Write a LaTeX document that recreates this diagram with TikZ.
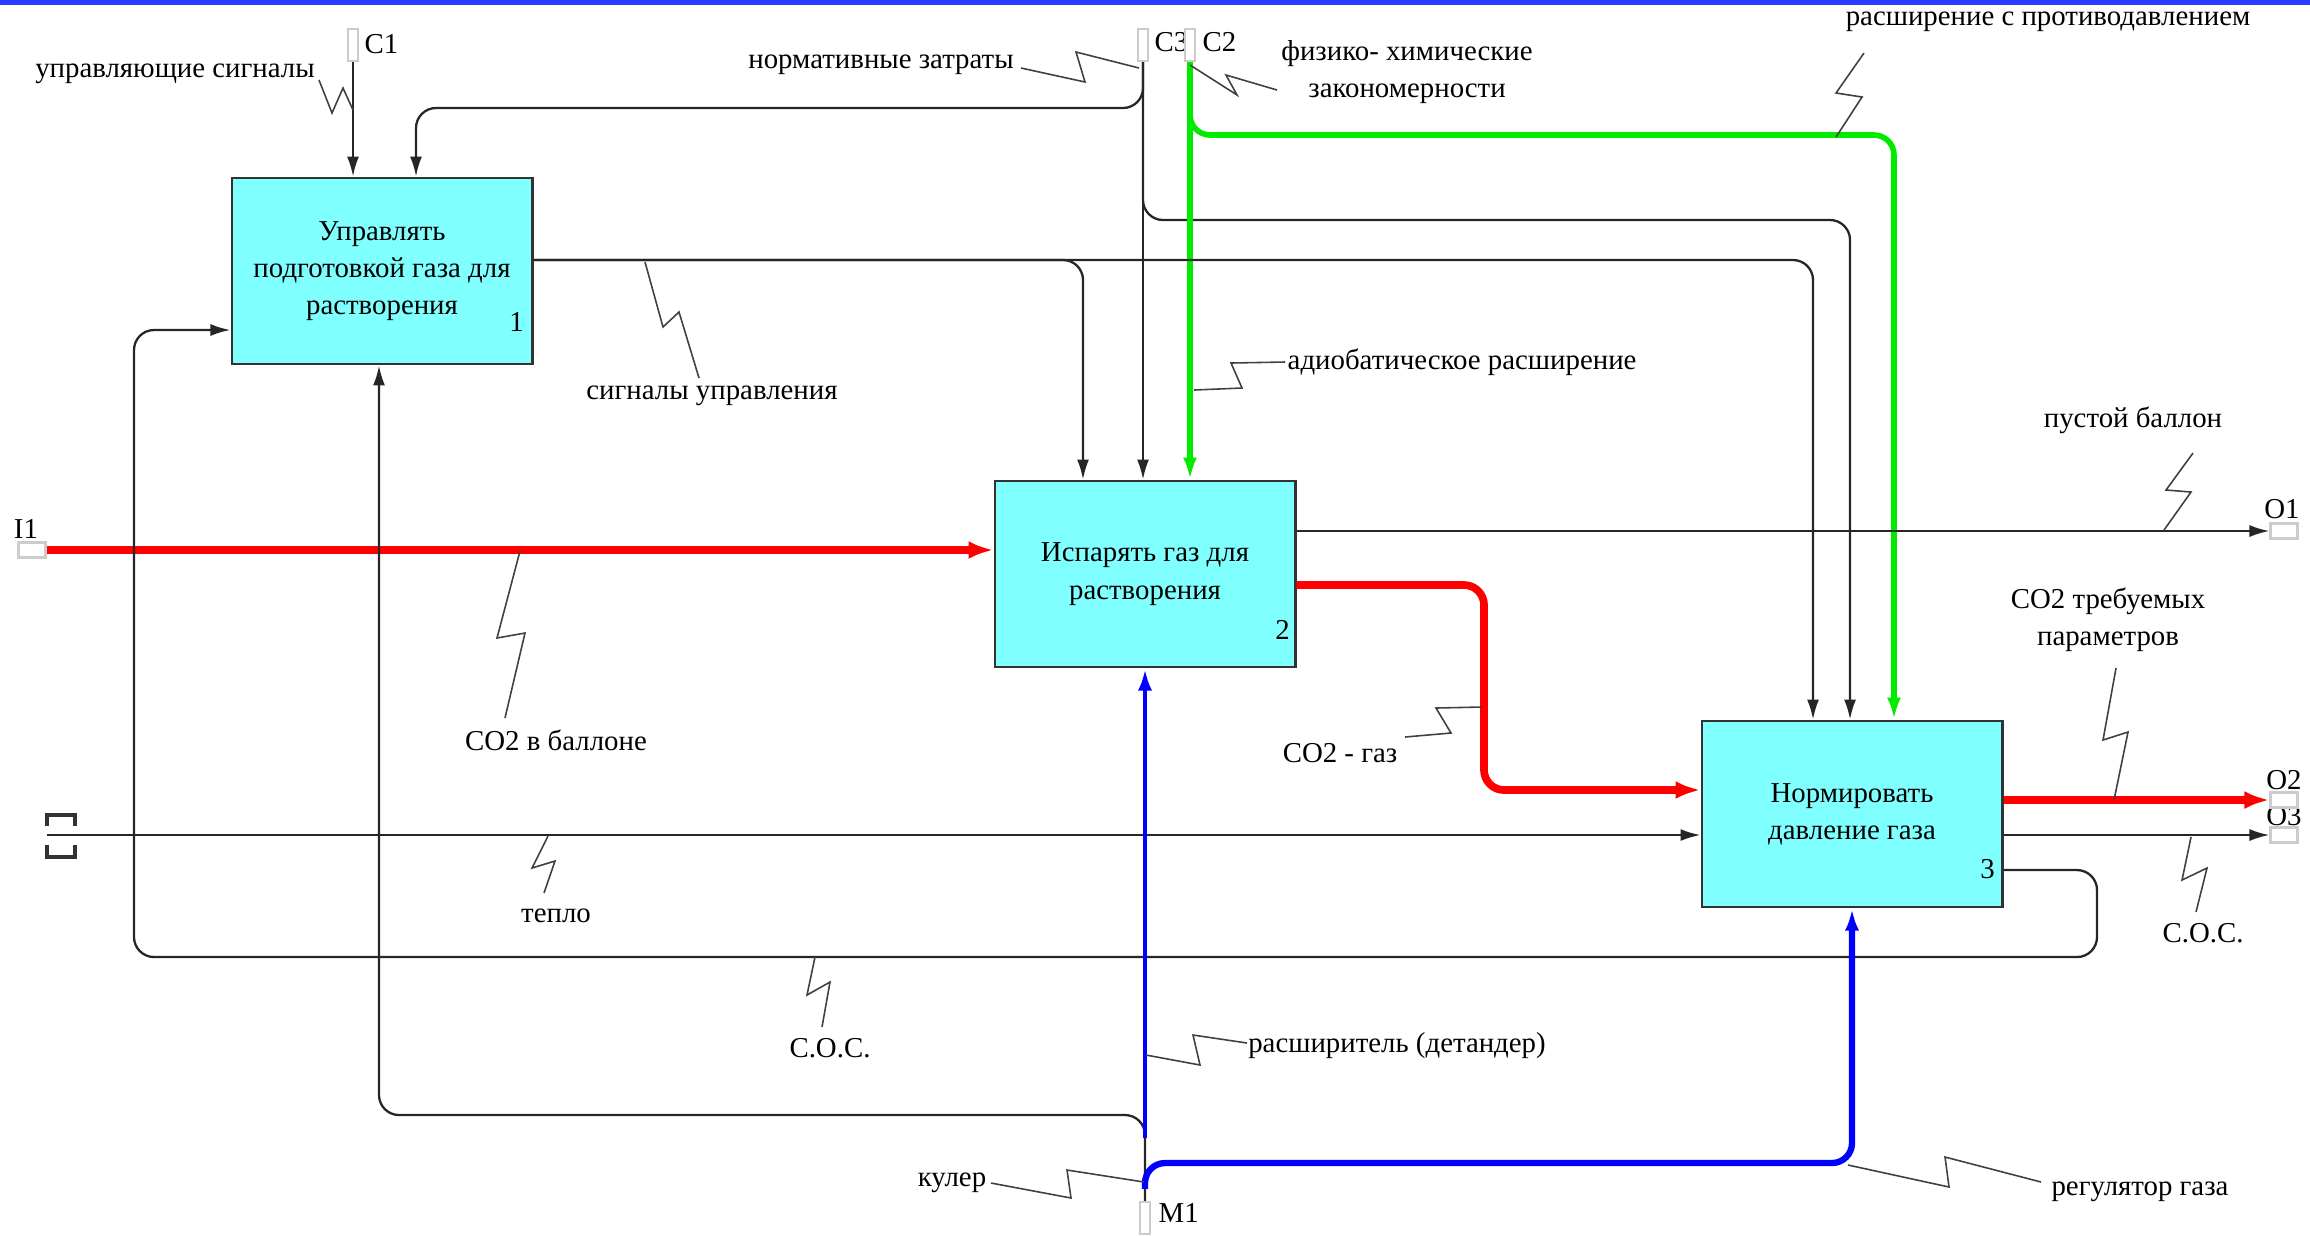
\documentclass[tikz,border=0pt]{standalone}
\usepackage{fontspec}
\setmainfont{Liberation Serif}
\usetikzlibrary{arrows.meta,positioning}

\definecolor{fncyan}{RGB}{128,255,255}
\definecolor{topblue}{RGB}{43,58,255}
\definecolor{flowred}{RGB}{255,0,0}
\definecolor{flowgreen}{RGB}{0,235,0}
\definecolor{flowblue}{RGB}{0,0,255}

\begin{document}
\begin{tikzpicture}[x=0.01cm, y=-0.01cm,
    every node/.style={font=\fontsize{8.2}{10.6}\selectfont},
    fn/.style={rectangle, draw=black!80, line width=0.8pt, fill=fncyan,
               minimum width=3cm, minimum height=1.86cm, align=center, inner sep=0pt},
    num/.style={inner sep=0pt},
    tun/.style={rectangle, draw=black!20, fill=white, line width=0.6pt, inner sep=0pt},
    vt/.style={tun, minimum width=0.1cm, minimum height=0.32cm},
    ht/.style={tun, minimum width=0.27cm, minimum height=0.15cm},
    tl/.style={inner sep=0pt},
    lbl/.style={inner sep=0pt, align=center},
    e/.style={draw=black!85, line width=0.65pt, rounded corners=0.2cm,
              -{Latex[length=2mm,width=1.2mm]}},
    er/.style={e, draw=flowred, line width=2.2pt, -{Latex[length=2.5mm,width=1.8mm]}},
    eg/.style={e, draw=flowgreen, line width=1.6pt, -{Latex[length=2.2mm,width=1.4mm]}},
    eb/.style={e, draw=flowblue, line width=1.3pt, -{Latex[length=2.2mm,width=1.4mm]}},
    sq/.style={draw=black!75, line width=0.45pt},
  ]
  \useasboundingbox (0,0) rectangle (2310,1235);
  \fill[topblue] (0,0) rectangle (2310,5);

  % function boxes
  \node[fn] (b1) at (382,271) {Управлять\\подготовкой газа для\\растворения};
  \node[fn] (b2) at (1145,574) {Испарять газ для\\растворения};
  \node[fn] (b3) at (1852,814) {Нормировать\\давление газа};
  \node[num] (n1) at ([xshift=-0.17cm, yshift=0.43cm]b1.south east) {1};
  \node[num] (n2) at ([xshift=-0.14cm, yshift=0.39cm]b2.south east) {2};
  \node[num] (n3) at ([xshift=-0.16cm, yshift=0.39cm]b3.south east) {3};

  % tunnels
  \node[tl, right] (c1l) at (364,44) {C1};
  \node[tl, right] (c3l) at (1154,42) {C3};
  \node[tl, right] (c2l) at (1202,42) {C2};
  \node[tl] (i1l) at (26,529) {I1};
  \node[tl] (o1l) at (2282,509) {O1};
  \node[tl] (o3l) at (2284,816) {O3};
  \node[tl] (o2l) at (2284,780) {O2};
  \node[tl, right] (m1l) at (1158,1213) {M1};
  \node[vt] (c1) at (353,45) {};
  \node[vt] (c3) at (1143,45) {};
  \node[vt] (c2) at (1190,45) {};
  \node[vt] (m1) at (1145,1218) {};
  \node[ht] (i1) at (32,550) {};
  \node[ht] (o1) at (2284,531) {};
  \node[ht] (o3) at (2284,835) {};
  \node[ht] (o2) at (2284,800) {};
  \coordinate (t1) at (47,835);
  \draw[black!80, line width=0.9pt] (47,826) -- (47,815) -- (75,815) -- (75,826);
  \draw[black!80, line width=0.9pt] (47,845) -- (47,857) -- (75,857) -- (75,845);

  % bends
  \coordinate (k1) at (416,108);
  \coordinate (k3) at (1850,220);
  \coordinate (g3) at (1894,135);
  \coordinate (s2) at (1083,260);
  \coordinate (s3) at (1813,260);
  \coordinate (r1) at (1484,790);
  \coordinate (f1) at (2097,957);
  \coordinate (f2) at (134,330);
  \coordinate (mk) at (379,1115);
  \coordinate (bk) at (1852,1163);

  % controls
  \draw[e] (c1.south) -- (c1.south |- b1.north);
  \draw[e] (c3.south) |- (k1) -- (k1 |- b1.north);
  \draw[e] (c3.south) -- (c3.south |- b2.north);
  \draw[e] (c3.south) |- (k3) -- (k3 |- b3.north);
  \draw[eg] (c2.south) -- (c2.south |- b2.north);
  \draw[eg] (c2.south) |- (g3) -- (g3 |- b3.north);
  \draw[e] ([yshift=0.11cm]b1.east) -| (s2 |- b2.north);
  \draw[e] ([yshift=0.11cm]b1.east) -| (s3 |- b3.north);
  % inputs and outputs
  \draw[er] (i1.east) -- (i1.east -| b2.west);
  \draw[e] (t1) -- (t1 -| b3.west);
  \draw[e] (o1.west -| b2.east) -- (o1.west);
  \draw[er] ([yshift=-0.11cm]b2.east) -| (r1) -- (r1 -| b3.west);
  \draw[er] (o2.west -| b3.east) -- (o2.west);
  \draw[e] (o3.west -| b3.east) -- (o3.west);
  \draw[e] ([yshift=-0.56cm]b3.east) -| (f1) -| (f2) -- (f2 -| b1.west);
  % mechanisms
  \draw[e] (m1.north) |- (mk) -- (mk |- b1.south);
  \draw[eb] ([yshift=0.63cm]m1.north) -- (m1.north |- b2.south);
  \draw[eb, line width=1.8pt] ([yshift=0.12cm]m1.north) |- (bk) -- (bk |- b3.south);

  % labels
  \node[lbl] (lsig) at (175,74) {управляющие сигналы};
  \node[lbl] (lnorm) at (881,65) {нормативные затраты};
  \node[lbl] (lfiz) at (1407,72) {физико- химические\\закономерности};
  \node[lbl] (lprot) at (2048,22) {расширение с противодавлением};
  \node[lbl] (lupr) at (712,396) {сигналы управления};
  \node[lbl, right] (ladi) at (1287,362) {адиобатическое расширение};
  \node[lbl] (lpust) at (2133,420) {пустой баллон};
  \node[lbl] (lco2b) at (556,740) {CO2 в баллоне};
  \node[lbl] (lco2g) at (1340,753) {CO2 - газ};
  \node[lbl] (lco2t) at (2108,620) {CO2 требуемых\\параметров};
  \node[lbl] (lsos1) at (2203,933) {С.О.С.};
  \node[lbl] (lteplo) at (556,916) {тепло};
  \node[lbl] (lsos2) at (830,1048) {С.О.С.};
  \node[lbl] (lrasch) at (1397,1046) {расширитель (детандер)};
  \node[lbl] (lkul) at (952,1183) {кулер};
  \node[lbl] (lreg) at (2140,1192) {регулятор газа};

  % squiggles
  \draw[sq] (319,80) -- (332,113) -- (343,88) -- (353,110);
  \draw[sq] (1021,68) -- (1085,82) -- (1076,52) -- (1139,68);
  \draw[sq] (1190,65) -- (1237,95) -- (1226,75) -- (1277,90);
  \draw[sq] (1864,53) -- (1836,93) -- (1862,97) -- (1836,137);
  \draw[sq] (645,262) -- (663,327) -- (679,312) -- (699,378);
  \draw[sq] (1194,390) -- (1242,388) -- (1231,363) -- (1285,362);
  \draw[sq] (2193,453) -- (2166,490) -- (2191,492) -- (2164,530);
  \draw[sq] (520,551) -- (497,638) -- (525,633) -- (505,718);
  \draw[sq] (1482,707) -- (1436,708) -- (1451,733) -- (1405,737);
  \draw[sq] (2116,668) -- (2103,740) -- (2128,732) -- (2114,800);
  \draw[sq] (2191,837) -- (2182,880) -- (2207,868) -- (2196,912);
  \draw[sq] (548,836) -- (532,868) -- (555,861) -- (544,893);
  \draw[sq] (815,957) -- (807,995) -- (830,982) -- (822,1027);
  \draw[sq] (1146,1055) -- (1200,1065) -- (1193,1035) -- (1247,1043);
  \draw[sq] (991,1183) -- (1071,1198) -- (1067,1170) -- (1144,1182);
  \draw[sq] (1848,1165) -- (1949,1187) -- (1945,1157) -- (2041,1182);
\end{tikzpicture}
\end{document}
